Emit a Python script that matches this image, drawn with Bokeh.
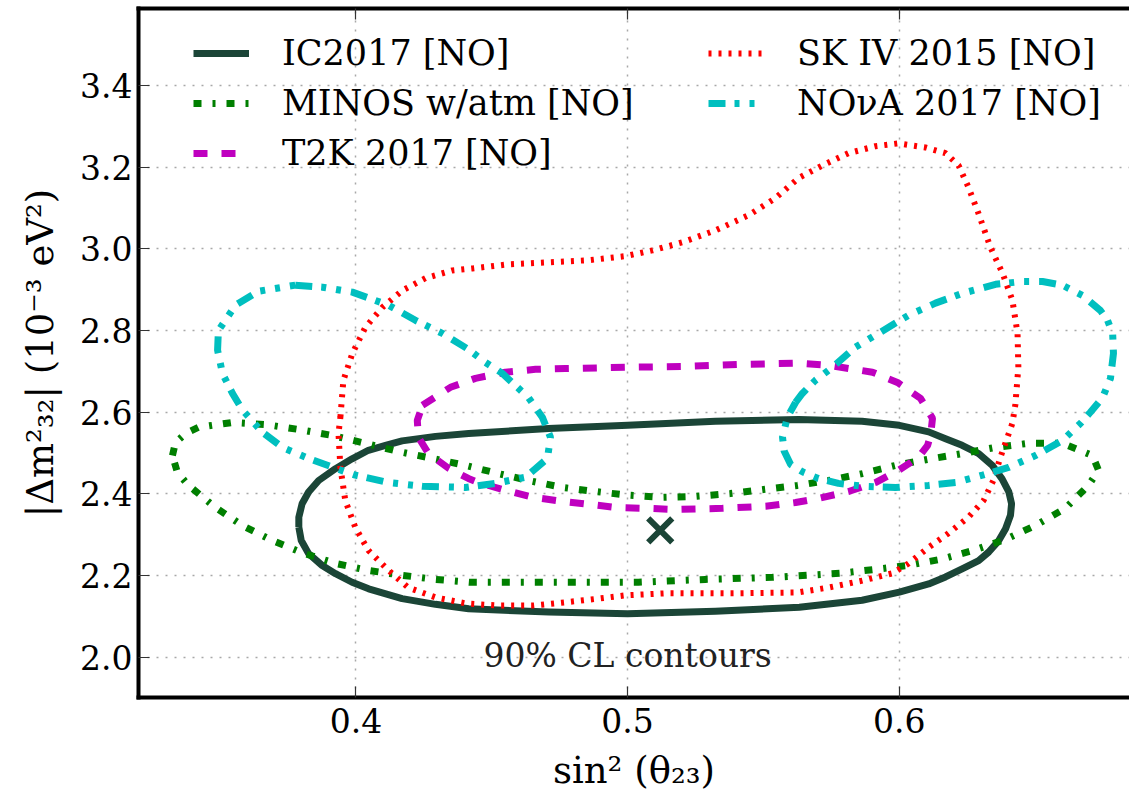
from bokeh.plotting import figure
from bokeh.models import Range1d, FixedTicker, LinearAxis, Legend, LegendItem, Label
from bokeh.embed import file_html
from bokeh.resources import INLINE

# ---------------- data ----------------
x_ticks = [0.4, 0.5, 0.6]
x_tick_labels = ["0.4", "0.5", "0.6"]
y_ticks = [2.0, 2.2, 2.4, 2.6, 2.8, 3.0, 3.2, 3.4]
y_tick_labels = ["2.0", "2.2", "2.4", "2.6", "2.8", "3.0", "3.2", "3.4"]

labels = ["IC2017 [NO]", "MINOS w/atm [NO]", "T2K 2017 [NO]", "SK IV 2015 [NO]", "NO\u03bdA 2017 [NO]"]

ic_x = [0.3790, 0.3790, 0.3802, 0.3826, 0.3863, 0.3925, 0.3986, 0.4046, 0.4109, 0.4170, 0.4293, 0.4415,
        0.4709, 0.5000, 0.5323, 0.5629, 0.5863, 0.6000, 0.6108, 0.6170, 0.6231, 0.6292, 0.6342, 0.6378,
        0.6403, 0.6413, 0.6409, 0.6391, 0.6366, 0.6329, 0.6292, 0.6231, 0.6170, 0.6108, 0.6000, 0.5863,
        0.5632, 0.5323, 0.5000, 0.4710, 0.4415, 0.4293, 0.4170, 0.4047, 0.3986, 0.3925, 0.3876, 0.3826,
        0.3799]
ic_y = [2.319, 2.343, 2.376, 2.405, 2.433, 2.462, 2.486, 2.507, 2.519, 2.530, 2.541, 2.548,
        2.560, 2.568, 2.578, 2.582, 2.578, 2.568, 2.552, 2.535, 2.519, 2.499, 2.470, 2.437,
        2.405, 2.376, 2.348, 2.315, 2.286, 2.258, 2.237, 2.217, 2.197, 2.180, 2.160, 2.140,
        2.123, 2.113, 2.107, 2.111, 2.119, 2.130, 2.144, 2.168, 2.184, 2.205, 2.225, 2.254,
        2.286]

minos_x = [0.3325, 0.3336, 0.3373, 0.3420, 0.3545, 0.3667, 0.3788, 0.3914, 0.4035, 0.4156, 0.4282, 0.4403,
           0.4524, 0.4635, 0.4760, 0.4881, 0.5003, 0.5128, 0.5249, 0.5378, 0.5500, 0.5625, 0.5739, 0.5864,
           0.5986, 0.6107, 0.6232, 0.6354, 0.6475, 0.6600, 0.6711, 0.6733, 0.6696, 0.6611, 0.6501, 0.6391,
           0.6273, 0.6152, 0.6030, 0.5905, 0.5783, 0.5662, 0.5533, 0.5286, 0.5040, 0.4915, 0.4668, 0.4421,
           0.4293, 0.4171, 0.4046, 0.3925, 0.3807, 0.3693, 0.3582, 0.3483, 0.3384, 0.3343]
minos_y = [2.494, 2.526, 2.548, 2.563, 2.575, 2.570, 2.558, 2.543, 2.524, 2.504, 2.487, 2.470,
           2.450, 2.433, 2.416, 2.406, 2.397, 2.392, 2.394, 2.401, 2.411, 2.421, 2.433, 2.450,
           2.470, 2.485, 2.499, 2.514, 2.524, 2.524, 2.494, 2.458, 2.421, 2.365, 2.323, 2.289,
           2.262, 2.240, 2.225, 2.215, 2.206, 2.201, 2.196, 2.191, 2.184, 2.184, 2.184, 2.184,
           2.191, 2.201, 2.213, 2.230, 2.255, 2.286, 2.323, 2.367, 2.421, 2.453]

t2k_x = [0.4245, 0.4348, 0.4440, 0.4550, 0.4661, 0.4771, 0.4992, 0.5202, 0.5408, 0.5629, 0.5739, 0.5901,
         0.5993, 0.6078, 0.6122, 0.6115, 0.6104, 0.6071, 0.5997, 0.5912, 0.5813, 0.5702, 0.5618, 0.5508,
         0.5349, 0.5176, 0.5066, 0.4955, 0.4856, 0.4760, 0.4650, 0.4539, 0.4451, 0.4414, 0.4341, 0.4267,
         0.4230, 0.4226]
t2k_y = [2.617, 2.661, 2.683, 2.698, 2.705, 2.707, 2.710, 2.712, 2.717, 2.720, 2.715, 2.698,
         2.673, 2.634, 2.585, 2.543, 2.519, 2.490, 2.458, 2.428, 2.406, 2.389, 2.379, 2.370,
         2.365, 2.362, 2.365, 2.367, 2.375, 2.382, 2.392, 2.411, 2.428, 2.438, 2.463, 2.499,
         2.539, 2.580]

sk_x = [0.3943, 0.3954, 0.3987, 0.4035, 0.4098, 0.4171, 0.4256, 0.4355, 0.4429, 0.4561, 0.4709, 0.4856,
        0.4992, 0.5091, 0.5202, 0.5323, 0.5445, 0.5544, 0.5629, 0.5717, 0.5813, 0.5912, 0.5997, 0.6096,
        0.6170, 0.6218, 0.6254, 0.6291, 0.6335, 0.6380, 0.6416, 0.6435, 0.6438, 0.6427, 0.6416, 0.6398,
        0.6372, 0.6346, 0.6310, 0.6254, 0.6181, 0.6107, 0.6034, 0.5975, 0.5864, 0.5739, 0.5625, 0.5386,
        0.5139, 0.4992, 0.4893, 0.4771, 0.4650, 0.4525, 0.4407, 0.4293, 0.4193, 0.4120, 0.4046, 0.3998,
        0.3961, 0.3943, 0.3936]
sk_y = [2.588, 2.678, 2.744, 2.808, 2.857, 2.898, 2.928, 2.947, 2.952, 2.962, 2.967, 2.972,
        2.982, 2.996, 3.016, 3.045, 3.082, 3.124, 3.173, 3.204, 3.234, 3.251, 3.258, 3.248,
        3.234, 3.204, 3.151, 3.087, 3.004, 2.940, 2.874, 2.793, 2.710, 2.619, 2.573, 2.539,
        2.490, 2.433, 2.384, 2.343, 2.304, 2.269, 2.230, 2.206, 2.188, 2.171, 2.159, 2.157,
        2.157, 2.152, 2.144, 2.135, 2.127, 2.127, 2.132, 2.147, 2.171, 2.213, 2.262, 2.318,
        2.384, 2.465, 2.548]

nova_left_x = [0.3777, 0.3877, 0.3987, 0.4120, 0.4219, 0.4318, 0.4414, 0.4477, 0.4539, 0.4635, 0.4686,
               0.4716, 0.4705, 0.4624, 0.4513, 0.4403, 0.4245, 0.4120, 0.3998, 0.3925, 0.3825, 0.3730,
               0.3656, 0.3583, 0.3546, 0.3509, 0.3491, 0.3494, 0.3557, 0.3641]
nova_left_y = [2.911, 2.906, 2.894, 2.862, 2.825, 2.793, 2.754, 2.722, 2.695, 2.636, 2.588,
               2.539, 2.487, 2.441, 2.426, 2.416, 2.419, 2.428, 2.446, 2.463, 2.487, 2.514,
               2.551, 2.605, 2.646, 2.695, 2.752, 2.800, 2.862, 2.896]

nova_right_x = [0.5618, 0.5643, 0.5691, 0.5754, 0.5838, 0.5923, 0.6033, 0.6133, 0.6232, 0.6299, 0.6354,
                0.6453, 0.6527, 0.6600, 0.6674, 0.6740, 0.6766, 0.6785, 0.6788, 0.6777, 0.6748, 0.6703,
                0.6667, 0.6600, 0.6501, 0.6402, 0.6306, 0.6207, 0.6107, 0.5986, 0.5864, 0.5776, 0.5702,
                0.5647, 0.5600, 0.5576, 0.5570, 0.5588]
nova_right_y = [2.624, 2.646, 2.678, 2.710, 2.759, 2.793, 2.837, 2.867, 2.891, 2.903, 2.913,
                2.920, 2.920, 2.911, 2.886, 2.849, 2.825, 2.793, 2.744, 2.683, 2.636, 2.600,
                2.573, 2.531, 2.494, 2.465, 2.446, 2.428, 2.421, 2.416, 2.419, 2.426, 2.438,
                2.453, 2.472, 2.505, 2.539, 2.588]

best_x = [0.512]
best_y = [2.311]

note_text = "90% CL contours"
note_x = 0.5
note_y = 2.005


def closed(a):
    return list(a) + [a[0]]


# ---------------- figure ----------------
SERIF = "DejaVu Serif"
IC_COLOR = "#1b4537"

p = figure(width=1129, height=802,
           x_range=Range1d(0.32, 0.6847), y_range=Range1d(1.902, 3.588),
           output_backend="svg", toolbar_location=None,
           min_border_left=138, min_border_right=0, min_border_top=8, min_border_bottom=105)
p.outline_line_color = None
p.background_fill_color = "white"
p.border_fill_color = "white"

# grid
for g in (p.xgrid, p.ygrid):
    g.grid_line_color = "#a8a8a8"
    g.grid_line_dash = "2 7"
    g.grid_line_width = 1.5
p.xgrid.ticker = FixedTicker(ticks=x_ticks)
p.ygrid.ticker = FixedTicker(ticks=y_ticks)


def style_axis(ax, ticks, tick_labels, show_labels=True):
    ax.ticker = FixedTicker(ticks=ticks)
    ax.major_label_overrides = {t: l for t, l in zip(ticks, tick_labels)}
    ax.axis_line_width = 4
    ax.axis_line_color = "black"
    ax.axis_line_cap = "square"
    ax.major_tick_in = 11
    ax.major_tick_out = 0
    ax.major_tick_line_color = "#333333"
    ax.major_tick_line_width = 1.2
    ax.minor_tick_line_color = None
    ax.major_label_text_font = SERIF
    ax.major_label_text_color = "black"
    if show_labels:
        ax.major_label_text_font_size = "33px"
    else:
        ax.major_label_text_font_size = "1px"
        ax.major_label_text_color = None
        ax.major_label_standoff = 0


xa = p.xaxis[0]
ya = p.yaxis[0]
style_axis(xa, x_ticks, x_tick_labels)
style_axis(ya, y_ticks, y_tick_labels)
xa.major_label_standoff = 10
ya.major_label_standoff = 6

xa.axis_label = "sin\u00b2 (\u03b8\u2082\u2083)"
ya.axis_label = "|\u0394m\u00b2\u2083\u2082| (10\u207b\u00b3 eV\u00b2)"
for ax in (xa, ya):
    ax.axis_label_text_font = SERIF
    ax.axis_label_text_font_style = "normal"
    ax.axis_label_text_font_size = "37px"
    ax.axis_label_text_color = "black"
xa.axis_label_standoff = 13
ya.axis_label_standoff = 15

top = LinearAxis()
style_axis(top, x_ticks, x_tick_labels, show_labels=False)
p.add_layout(top, "above")

# contours
r_ic = p.line(closed(ic_x), closed(ic_y), line_color=IC_COLOR, line_width=7, line_join="round")
r_minos = p.line(closed(minos_x), closed(minos_y), line_color="#007f00", line_width=7,
                 line_dash="8 11 3 11")
r_t2k = p.line(closed(t2k_x), closed(t2k_y), line_color="#bf00bf", line_width=7,
               line_dash="14 14")
r_sk = p.line(closed(sk_x), closed(sk_y), line_color="#ff0000", line_width=6,
              line_dash="3 7")
r_nova = p.line(closed(nova_left_x), closed(nova_left_y), line_color="#00bfbf", line_width=7,
                line_dash="17 9 5 10 5 10")
r_nova2 = p.line(closed(nova_right_x), closed(nova_right_y), line_color="#00bfbf", line_width=7,
                 line_dash="17 9 5 10 5 10")

p.scatter(best_x, best_y, marker="x", size=34, line_width=6, line_color=IC_COLOR)

p.add_layout(Label(x=note_x, y=note_y, text=note_text, text_align="center", text_baseline="middle",
                   text_font=SERIF, text_font_size="33px", text_color="#222222"))


def make_legend(items, loc):
    leg = Legend(items=items, location=loc, orientation="vertical")
    leg.border_line_color = None
    leg.background_fill_alpha = 0
    leg.padding = 0
    leg.margin = 0
    leg.spacing = 0
    leg.glyph_width = 56
    leg.glyph_height = 50
    leg.label_height = 50
    leg.label_standoff = 33
    leg.label_text_font = SERIF
    leg.label_text_font_size = "35px"
    leg.label_text_color = "black"
    leg.label_text_baseline = "middle"
    return leg


leg1 = make_legend([LegendItem(label=labels[0], renderers=[r_ic]),
                    LegendItem(label=labels[1], renderers=[r_minos]),
                    LegendItem(label=labels[2], renderers=[r_t2k])], (55, 519))
leg2 = make_legend([LegendItem(label=labels[3], renderers=[r_sk]),
                    LegendItem(label=labels[4], renderers=[r_nova])], (570, 569))
p.add_layout(leg1)
p.add_layout(leg2)

open("out.html", "w").write(file_html(p, INLINE))
